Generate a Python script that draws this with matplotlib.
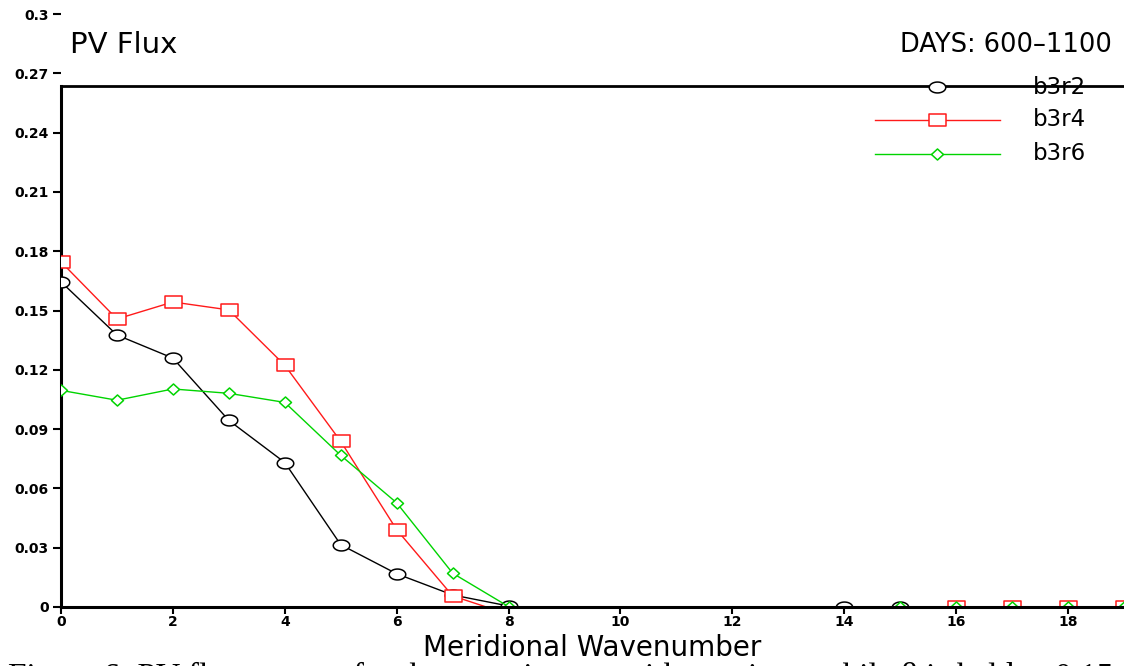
import numpy as np
import matplotlib
matplotlib.use("Agg")
import matplotlib.pyplot as plt
from matplotlib.lines import Line2D
from matplotlib.path import Path

# ---- data ----
wavenumber = list(range(0, 20))
nan = np.nan
b3r2 = [0.1645, 0.1376, 0.1259, 0.0944, 0.0731, 0.0315, 0.0168, 0.0061, 0.0005,
        nan, nan, nan, nan, nan, 0.0, 0.0, 0.0, 0.0, nan, nan]
b3r4 = [0.1746, 0.1457, 0.1543, 0.1503, 0.1223, 0.0838, 0.0391, 0.0056, -0.0037,
        nan, nan, nan, nan, nan, nan, nan, 0.0, 0.0, 0.0, 0.0]
b3r6 = [0.1096, 0.1046, 0.1103, 0.1081, 0.1035, 0.0767, 0.0527, 0.0171, 0.0002,
        nan, nan, nan, nan, nan, nan, 0.0, 0.0, 0.0, 0.0, 0.0]
series_names = ["b3r2", "b3r4", "b3r6"]
yticks = [0, 0.03, 0.06, 0.09, 0.12, 0.15, 0.18, 0.21, 0.24, 0.27, 0.3]
ytick_labels = ["0", "0.03", "0.06", "0.09", "0.12", "0.15", "0.18", "0.21", "0.24", "0.27", "0.3"]
xticks = list(range(0, 19, 2))
frame_top = 0.2636

# ---- styles ----
W, H = 1124, 666
fig = plt.figure(figsize=(W / 100, H / 100), dpi=100)
ax = fig.add_axes([61 / W, (H - 607) / H, (W - 61) / W, (607 - 14) / H])

t = np.linspace(0, 2 * np.pi, 60)
ellipse = Path(np.column_stack([np.cos(t), 0.66 * np.sin(t)]), closed=True)
rect = Path([(-1, -0.65), (1, -0.65), (1, 0.65), (-1, 0.65), (-1, -0.65)], closed=True)
diamond = Path([(0, -0.92), (1, 0), (0, 0.92), (-1, 0), (0, -0.92)], closed=True)

colors = ["#000000", "#ff1a1a", "#00d400"]
markers = [ellipse, rect, diamond]
msizes = [16.5, 17, 12]
data = [b3r2, b3r4, b3r6]

for y, c, m, ms in zip(data, colors, markers, msizes):
    ax.plot(wavenumber, y, color=c, lw=1.0, marker=m, ms=ms * 0.72,
            mfc="white", mec=c, mew=1.1, clip_on=True, zorder=3)

ax.set_xlim(0, 19)
ax.set_ylim(0, 0.3)
ax.set_yticks(yticks)
ax.set_yticklabels(ytick_labels)
ax.set_xticks(xticks)
ax.set_xticklabels([str(v) for v in xticks])

for s in ["top", "right"]:
    ax.spines[s].set_visible(False)
ax.spines["left"].set_bounds(0, frame_top)
ax.spines["left"].set_linewidth(2.2)
ax.spines["bottom"].set_linewidth(2.2)
ax.spines["bottom"].set_zorder(5)
ax.axhline(frame_top, color="black", lw=2.0, clip_on=False, zorder=5)
ax.patch.set_visible(False)

ax.tick_params(axis="y", direction="out", length=6, width=1.5, pad=3,
               labelsize=10)
ax.tick_params(axis="x", direction="out", length=5, width=1.5, pad=1,
               labelsize=10)
for lab in ax.get_xticklabels() + ax.get_yticklabels():
    lab.set_fontweight("bold")
    lab.set_family("DejaVu Sans")

# titles
fig.text(70 / W, 1 - 45 / H, "PV Flux", fontsize=21, family="DejaVu Sans",
         va="center", ha="left")
fig.text(1112 / W, 1 - 45 / H, "DAYS: 600\u20131100", fontsize=18.5,
         family="DejaVu Sans", va="center", ha="right")
fig.text(592 / W, 1 - 648 / H, "Meridional Wavenumber", fontsize=20,
         family="DejaVu Sans", va="center", ha="center")

# legend
leg_y = [87, 120, 154]
for name, c, m, ms, yy in zip(series_names, colors, markers, msizes, leg_y):
    yf = 1 - yy / H
    if name != "b3r2":
        fig.add_artist(Line2D([875 / W, 1000 / W], [yf, yf], color=c, lw=1.0,
                              transform=fig.transFigure))
    fig.add_artist(Line2D([937 / W], [yf], color=c, marker=m, ms=ms * 0.72,
                          mfc="white", mec=c, mew=1.1, lw=0,
                          transform=fig.transFigure, zorder=6))
    fig.text(1033 / W, yf, name, fontsize=16.5, family="DejaVu Sans",
             va="center", ha="left", zorder=7)

# caption (cut off at bottom of image)
fig.text(8 / W, -20 / H,
         "Figure 6: PV flux spectra for the experiments with varying r while \u03b2 is held at 0.15",
         fontsize=24, family="Liberation Serif", va="baseline", ha="left")

fig.savefig("out.png", dpi=100)
